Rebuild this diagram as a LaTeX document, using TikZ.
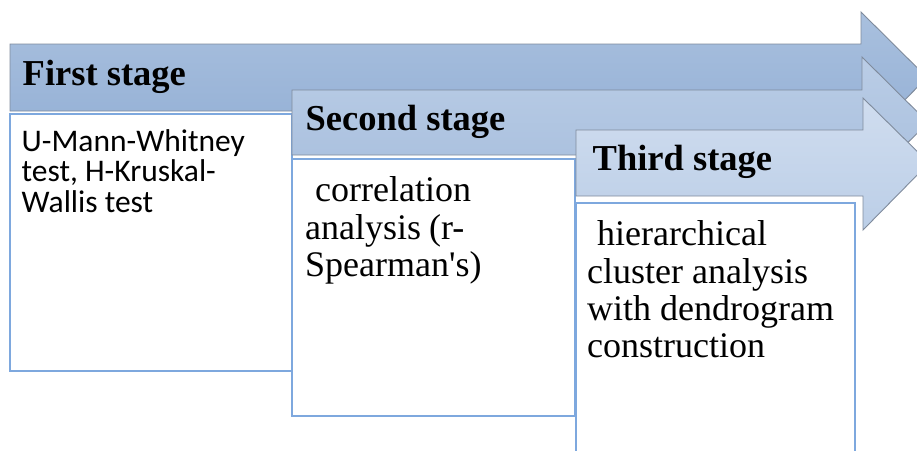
\documentclass[tikz,border=0pt]{standalone}
\usepackage{fontspec}
\setmainfont{Liberation Serif}[Ligatures=TeXOff]
\newfontfamily\bodysans{Carlito}
\definecolor{aOneT}{HTML}{A9C0DE}
\definecolor{aOneB}{HTML}{93AFD5}
\definecolor{aTwoT}{HTML}{BACDE6}
\definecolor{aTwoB}{HTML}{A7BEDD}
\definecolor{aThrT}{HTML}{D0DDEF}
\definecolor{aThrB}{HTML}{BBCEE7}
\definecolor{arrowline}{HTML}{7F8B9C}
\definecolor{boxline}{HTML}{7EA8DE}
\begin{document}
\begin{tikzpicture}[x=1pt,y=-1pt,
  stagearrow/.style={draw=arrowline, line width=0.9pt, line join=miter},
  boxframe/.style={draw=boxline, line width=1.3pt, fill=white, anchor=north west,
    inner sep=0pt, outer sep=0pt, minimum height=257pt},
  headtext/.style={anchor=base west, inner sep=0pt, font=\fontsize{36.5}{38}\selectfont\bfseries},
  serifline/.style={anchor=base west, inner sep=0pt, font=\fontsize{36}{38}\selectfont},
  sansline/.style={anchor=base west, inner sep=0pt, font=\bodysans\fontsize{31.5}{32}\selectfont}]
\useasboundingbox (0,0) rectangle (917,450);
\clip (0,0) rectangle (917,450);

% first stage arrow and box
\draw[stagearrow, top color=aOneT, bottom color=aOneB]
  (10,44) -- (861,44) -- (861,12) -- (927,77.5) -- (861,144) -- (861,111) -- (10,111) -- cycle;
\node[boxframe, minimum width=282pt] (box1) at (10,114) {};
\node[headtext] (h1) at (22.5,85) {First stage};
\node[sansline] (t1a) at (21.5,151) {U-Mann-Whitney};
\node[sansline] (t1b) at (21.5,181.5) {test, H-Kruskal-};
\node[sansline] (t1c) at (21.5,212) {Wallis test};

% second stage arrow and box
\draw[stagearrow, top color=aTwoT, bottom color=aTwoB]
  (292,90) -- (862,90) -- (862,57) -- (928,122.5) -- (862,188) -- (862,155) -- (292,155) -- cycle;
\node[boxframe, minimum width=283pt] (box2) at (292,159) {};
\node[headtext] (h2) at (305.5,130.5) {Second stage};
\node[serifline] (t2a) at (315,201) {correlation};
\node[serifline] (t2b) at (305,239) {analysis\hspace{8pt}(r-};
\node[serifline] (t2c) at (305,276) {Spearman's)};

% third stage arrow and box
\draw[stagearrow, top color=aThrT, bottom color=aThrB]
  (576,130) -- (863,130) -- (863,98) -- (929,163) -- (863,230) -- (863,196) -- (576,196) -- cycle;
\node[boxframe, minimum width=279pt] (box3) at (576,203) {};
\node[headtext] (h3) at (592.5,170) {Third stage};
\node[serifline] (t3a) at (597,245.5) {hierarchical};
\node[serifline] (t3b) at (587,283) {cluster analysis};
\node[serifline] (t3c) at (587,320) {with dendrogram};
\node[serifline] (t3d) at (587,357.5) {construction};
\end{tikzpicture}
\end{document}
